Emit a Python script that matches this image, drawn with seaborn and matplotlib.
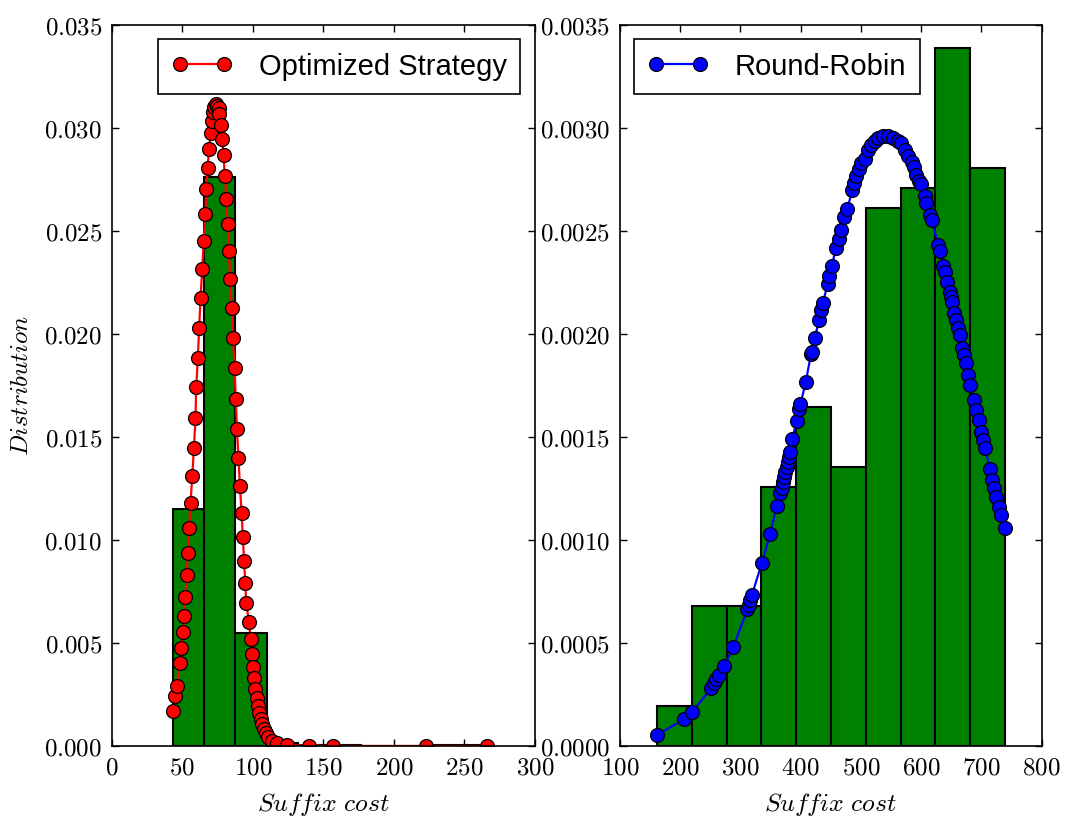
import numpy as np
import pandas as pd
import matplotlib
matplotlib.use("Agg")
import matplotlib.pyplot as plt
from matplotlib.ticker import FuncFormatter, MultipleLocator
import seaborn as sns

# ---------------- data ----------------
opt_edges = [43.0, 65.3, 87.6, 109.9, 132.2, 154.5, 176.8, 199.1, 221.4, 243.7, 266.0]
opt_heights = [0.0115, 0.0276, 0.0055, 0.00013, 0.00004, 0.00004, 0.0, 0.0, 0.00004, 0.00004]

opt_x = [43.0, 45.1, 46.1, 48.0, 49.2, 50.1, 51.1, 52.2, 53.0, 53.9, 54.8, 55.8, 57.0,
         58.2, 59.3, 59.8, 61.0, 61.9, 62.9, 64.1, 65.2, 66.2, 67.1, 67.9, 69.0, 70.0,
         70.7, 71.6, 72.6, 73.8, 74.7, 75.7, 76.1, 77.1, 78.2, 79.2, 80.1, 81.1, 82.1,
         83.0, 83.9, 85.1, 86.0, 87.0, 87.9, 88.7, 89.8, 90.8, 92.0, 92.9, 93.8, 94.6,
         95.3, 97.2, 98.4, 99.3, 100.0, 100.9, 101.6, 102.6, 103.5, 104.5, 105.5,
         106.6, 107.8, 109.2, 110.9, 113.3, 116.8, 123.9, 140.0, 157.0, 223.0, 266.0]
opt_y = [0.0017, 0.00244, 0.00293, 0.00405, 0.00474, 0.00552, 0.00631, 0.00725, 0.00829,
         0.00938, 0.01057, 0.01181, 0.01311, 0.01448, 0.01591, 0.0174, 0.01885, 0.0203,
         0.02175, 0.02317, 0.02453, 0.02581, 0.02702, 0.02806, 0.02898, 0.02976, 0.03035,
         0.03078, 0.03103, 0.03115, 0.03108, 0.03095, 0.03066, 0.03016, 0.02948, 0.02866,
         0.02767, 0.02657, 0.02535, 0.02403, 0.02267, 0.02125, 0.01979, 0.01833, 0.01684,
         0.01537, 0.01398, 0.01264, 0.01133, 0.01013, 0.00897, 0.00791, 0.00694, 0.00603,
         0.00521, 0.00448, 0.00385, 0.00329, 0.00277, 0.00232, 0.00194, 0.00159, 0.0013,
         0.00105, 0.00083, 0.00062, 0.00042, 0.00026, 0.00013, 0.00005, 0.00001, 0.0,
         0.0, 0.0]

rr_edges = [161.9, 219.6, 277.4, 335.1, 392.8, 450.6, 508.3, 566.0, 623.7, 681.5, 739.2]
rr_heights = [0.000194, 0.000678, 0.000678, 0.001258, 0.001645, 0.001355,
              0.002613, 0.00271, 0.003387, 0.002807]

rr_x = [161.9, 206.7, 220.0, 252.1, 255.9, 260.4, 264.8, 273.6, 288.0, 311.9, 314.6,
        316.9, 319.6, 335.7, 349.5, 360.6, 365.6, 368.4, 370.5, 372.7, 375.0, 377.2,
        379.3, 381.0, 382.2, 386.0, 393.8, 397.1, 399.9, 408.5, 417.5, 419.8, 423.6,
        430.8, 434.1, 436.9, 445.2, 447.4, 451.9, 458.5, 463.0, 466.8, 472.3, 477.3,
        486.2, 489.5, 492.8, 496.6, 501.0, 507.0, 512.0, 517.6, 523.0, 528.5, 536.8,
        545.1, 553.4, 561.7, 567.2, 572.7, 578.2, 584.9, 587.7, 592.1, 596.5, 600.4,
        605.9, 608.7, 614.2, 617.5, 628.6, 631.9, 636.3, 639.1, 643.5, 647.4, 649.5,
        651.9, 655.2, 658.5, 661.2, 664.0, 667.4, 670.7, 674.0, 678.5, 681.8, 687.3,
        691.8, 695.6, 699.4, 702.7, 706.6, 713.8, 718.2, 721.5, 724.9, 728.7, 732.5,
        739.2]
rr_y = [0.000053, 0.00013, 0.000164, 0.000283, 0.000304, 0.000324, 0.000345, 0.00039,
        0.000479, 0.000663, 0.000684, 0.000709, 0.000735, 0.000887, 0.001028, 0.001165,
        0.001227, 0.001254, 0.001283, 0.001307, 0.001332, 0.001356, 0.00138, 0.001404,
        0.001426, 0.00149, 0.001576, 0.001634, 0.001659, 0.001765, 0.001904, 0.001914,
        0.001979, 0.002068, 0.002117, 0.002149, 0.002243, 0.002282, 0.002327, 0.002416,
        0.002461, 0.002505, 0.002565, 0.002605, 0.002699, 0.002731, 0.002764, 0.002801,
        0.002829, 0.002851, 0.002893, 0.002917, 0.002937, 0.00295, 0.002958, 0.002961,
        0.002953, 0.002938, 0.002926, 0.002893, 0.002861, 0.002836, 0.002812, 0.002772,
        0.00274, 0.002727, 0.002667, 0.002634, 0.002578, 0.002553, 0.002432, 0.0024,
        0.00233, 0.002298, 0.002254, 0.002205, 0.002181, 0.002157, 0.0021, 0.002068,
        0.002028, 0.001995, 0.00193, 0.001898, 0.001858, 0.001801, 0.001752, 0.00168,
        0.001631, 0.001583, 0.001526, 0.001485, 0.001445, 0.001343, 0.001291, 0.001251,
        0.00121, 0.001162, 0.001121, 0.001057]

opt_label = "Optimized Strategy"
rr_label = "Round-Robin"
x_label = r"$Suffix\ cost$"
y_label = r"$Distribution$"

# ---------------- style ----------------
sns.set_style("ticks")
plt.rcParams.update({
    "font.family": ["Liberation Sans", "DejaVu Sans"],
    "mathtext.fontset": "cm",
    "text.color": "black",
    "axes.labelcolor": "black",
    "axes.linewidth": 1.2,
    "xtick.direction": "in",
    "ytick.direction": "in",
    "xtick.top": True,
    "ytick.right": True,
    "xtick.major.size": 5,
    "ytick.major.size": 5,
    "xtick.major.width": 1.0,
    "ytick.major.width": 1.0,
    "xtick.color": "black",
    "ytick.color": "black",
    "axes.edgecolor": "black",
})

fig = plt.figure(figsize=(10.76, 8.27), dpi=100)
ax1 = fig.add_axes([0.104, 0.098, 0.393, 0.872])
ax2 = fig.add_axes([0.576, 0.098, 0.392, 0.872])

green = (0.0, 0.5, 0.0)


def draw(ax, edges, heights, xs, ys, color, label, ylim, yfmt, ystep, xlim, xstep, loc):
    centers = [(edges[i] + edges[i + 1]) / 2 for i in range(len(heights))]
    sns.histplot(x=centers, weights=heights, bins=edges, ax=ax, color=green,
                 alpha=1.0, edgecolor="black", linewidth=1.5, stat="count")
    df = pd.DataFrame({"x": xs, "y": ys})
    sns.lineplot(data=df, x="x", y="y", ax=ax, color=color, marker="o",
                 markersize=10, markeredgecolor="black", markeredgewidth=0.9,
                 linewidth=1.6, sort=False, estimator=None, label=label)
    ax.set_xlim(*xlim)
    ax.set_ylim(*ylim)
    ax.xaxis.set_major_locator(MultipleLocator(xstep))
    ax.yaxis.set_major_locator(MultipleLocator(ystep))
    ax.xaxis.set_major_formatter(FuncFormatter(lambda v, p: f"${v:.0f}$"))
    ax.yaxis.set_major_formatter(FuncFormatter(lambda v, p: "$" + yfmt.format(v) + "$"))
    ax.tick_params(labelsize=18, pad=7)
    ax.set_xlabel(x_label, fontsize=18.5, labelpad=8)
    ax.set_ylabel("")
    for s in ax.spines.values():
        s.set_visible(True)
    leg = ax.legend(loc=loc, numpoints=2, fancybox=False, fontsize=21,
                    handlelength=2.1, borderpad=0.45, handletextpad=0.9,
                    borderaxespad=0.5, framealpha=1)
    leg.get_frame().set_edgecolor("black")
    leg.get_frame().set_linewidth(1.2)
    for t in leg.get_texts():
        t.set_color("black")


draw(ax1, opt_edges, opt_heights, opt_x, opt_y, "red", opt_label,
     (0, 0.035), "{:.3f}", 0.005, (0, 300), 50, "upper right")
draw(ax2, rr_edges, rr_heights, rr_x, rr_y, "blue", rr_label,
     (0, 0.0035), "{:.4f}", 0.0005, (100, 800), 100, "upper left")

ax1.set_ylabel(y_label, fontsize=18, labelpad=8)

fig.savefig("out.png", dpi=100)
